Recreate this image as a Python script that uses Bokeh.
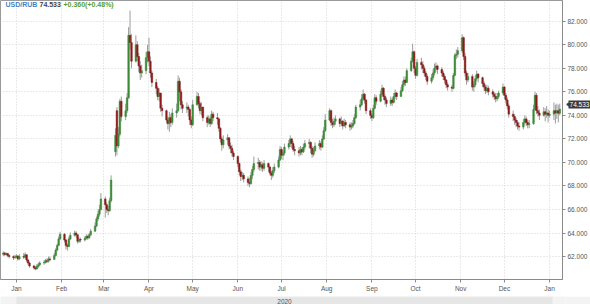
import pandas as pd
from bokeh.plotting import figure
from bokeh.models import (ColumnDataSource, Range1d, DatetimeTickFormatter, MonthsTicker,
                          FixedTicker, NumeralTickFormatter, Label)
from bokeh.layouts import column, row
from bokeh.core.properties import value
from bokeh.embed import file_html
from bokeh.resources import INLINE

# ---------------- data ----------------
symbol = "USD/RUB"
last_price = "74.533"
change_text = "+0.360(+0.48%)"
start_day = "2019-12-23"
end_day = "2021-01-08"
first_open = 62.20
open_gaps = {"2020-03-09": 70.90, "2020-03-10": 74.40}
years = ["2020"]
y_ticks = [62, 64, 66, 68, 70, 72, 74, 76, 78, 80, 82]

closes = [
    62.30, 62.18, 62.25, 62.10, 62.00,   # Dec 23
    61.90, 61.95, 62.05, 61.80, 62.00,   # Dec 30
    61.95, 62.15, 61.70, 61.45, 61.20,   # Jan 6
    61.05, 60.95, 61.15, 61.30, 61.45,   # Jan 13
    61.50, 61.65, 61.60, 61.80, 61.75,   # Jan 20
    62.10, 62.55, 62.95, 63.50, 63.90,   # Jan 27
    63.40, 62.95, 62.85, 63.50, 63.80,   # Feb 3
    64.00, 63.85, 63.30, 63.45, 63.40,   # Feb 10
    63.55, 63.70, 63.60, 63.85, 64.15,   # Feb 17
    64.60, 65.20, 65.60, 66.00, 66.90,   # Feb 24
    66.40, 66.00, 65.90, 66.75, 68.50,   # Mar 2
    72.30, 71.40, 72.40, 75.20, 73.90,   # Mar 9
    74.40, 75.50, 80.80, 80.20, 78.60,   # Mar 16
    80.00, 79.00, 78.20, 77.60, 77.80,   # Mar 23
    78.90, 79.40, 78.60, 77.60, 76.80,   # Mar 30
    76.30, 75.60, 75.90, 74.60, 74.40,   # Apr 6
    73.60, 73.30, 73.80, 73.40, 74.20,   # Apr 13
    74.40, 76.90, 76.00, 74.90, 74.60,   # Apr 20
    74.70, 74.50, 73.60, 73.20, 74.90,   # Apr 27
    75.60, 75.00, 74.40, 74.70, 73.80,   # May 4
    73.40, 73.70, 73.30, 74.10, 73.80,   # May 11
    73.70, 72.90, 72.00, 71.50, 71.90,   # May 18
    72.10, 71.40, 71.20, 70.80, 70.50,   # May 25
    69.90, 69.20, 68.80, 68.90, 68.60,   # Jun 1
    68.30, 68.20, 68.90, 69.40, 69.90,   # Jun 8
    70.00, 69.60, 69.80, 69.50, 69.90,   # Jun 15
    69.60, 69.10, 68.90, 69.30, 69.60,   # Jun 22
    70.20, 71.10, 70.60, 70.80, 71.30,   # Jun 29
    71.60, 72.00, 71.60, 71.10, 71.00,   # Jul 6
    70.80, 71.10, 70.90, 71.30, 71.60,   # Jul 13
    71.70, 71.20, 70.70, 71.00, 71.40,   # Jul 20
    71.60, 71.30, 72.00, 72.70, 73.60,   # Jul 27
    74.40, 73.40, 73.20, 73.50, 73.70,   # Aug 3
    73.30, 73.50, 73.10, 73.40, 73.20,   # Aug 10
    73.00, 73.10, 73.30, 73.80, 74.70,   # Aug 17
    74.90, 75.40, 75.80, 75.30, 74.40,   # Aug 24
    74.00, 73.80, 74.60, 75.50, 75.20,   # Aug 31
    75.80, 76.30, 75.60, 75.30, 75.00,   # Sep 7
    75.30, 75.10, 75.60, 75.90, 75.60,   # Sep 14
    76.10, 76.60, 77.00, 76.80, 77.80,   # Sep 21
    78.60, 79.40, 78.00, 77.40, 78.50,   # Sep 28
    78.30, 78.00, 77.60, 77.30, 76.90,   # Oct 5
    77.20, 77.60, 78.00, 78.20, 77.90,   # Oct 12
    77.60, 77.30, 77.00, 76.60, 76.40,   # Oct 19
    76.30, 77.40, 79.10, 79.20, 79.50,   # Oct 26
    80.60, 79.00, 77.60, 77.00, 77.30,   # Nov 2
    76.40, 76.60, 77.10, 77.50, 77.20,   # Nov 9
    76.70, 76.40, 76.10, 76.30, 76.00,   # Nov 16
    75.80, 75.60, 75.40, 75.60, 75.90,   # Nov 23
    76.40, 75.70, 75.30, 74.80, 74.10,   # Nov 30
    73.90, 73.60, 73.40, 73.10, 73.00,   # Dec 7
    73.40, 73.70, 73.40, 73.20, 73.30,   # Dec 14
    74.50, 75.70, 74.40, 74.20, 74.00,   # Dec 21
    74.30, 74.10, 74.20, 74.00, 74.10,   # Dec 28
    74.40, 74.20, 74.40, 74.173, 74.533, # Jan 4
]

highs = [
    62.45, 62.40, 62.35, 62.30, 62.20,
    62.10, 62.15, 62.20, 62.10, 62.20,
    62.30, 62.35, 62.20, 61.80, 61.55,
    61.30, 61.20, 61.35, 61.50, 61.60,
    61.70, 61.80, 61.85, 62.00, 62.00,
    62.30, 62.70, 63.10, 63.70, 64.10,
    64.00, 63.50, 63.10, 63.70, 64.05,
    64.20, 64.15, 63.90, 63.65, 63.60,
    63.75, 63.90, 63.85, 64.00, 64.35,
    64.90, 65.40, 65.90, 66.40, 67.40,
    67.10, 66.60, 66.30, 67.00, 68.90,
    72.90, 74.70, 73.00, 75.40, 75.60,
    75.00, 75.90, 81.50, 82.90, 80.90,
    80.80, 80.30, 79.30, 78.60, 78.30,
    79.40, 80.00, 80.60, 79.00, 77.80,
    77.10, 76.50, 76.30, 75.90, 74.90,
    74.50, 73.90, 74.30, 74.10, 74.60,
    75.00, 77.40, 77.20, 76.20, 75.20,
    75.10, 74.90, 74.60, 73.90, 75.30,
    76.00, 75.90, 75.20, 75.10, 74.70,
    74.00, 74.00, 73.90, 74.40, 74.30,
    74.20, 73.80, 73.00, 72.20, 72.30,
    72.40, 72.10, 71.70, 71.50, 71.00,
    70.60, 70.00, 69.40, 69.20, 69.10,
    68.80, 68.70, 69.20, 69.70, 70.50,
    70.40, 70.20, 70.10, 70.00, 70.20,
    70.00, 69.70, 69.30, 69.60, 69.90,
    70.50, 71.40, 71.30, 71.00, 71.60,
    71.90, 72.30, 72.10, 71.80, 71.40,
    71.30, 71.40, 71.30, 71.60, 71.90,
    72.00, 71.80, 71.40, 71.30, 71.70,
    71.90, 71.80, 72.30, 73.00, 74.10,
    74.60, 74.50, 73.70, 73.80, 74.00,
    73.80, 73.90, 73.60, 73.70, 73.60,
    73.40, 73.40, 73.60, 74.10, 74.90,
    75.30, 75.80, 76.20, 75.90, 75.40,
    74.60, 74.20, 74.90, 75.80, 75.70,
    76.10, 76.60, 76.40, 75.80, 75.50,
    75.60, 75.50, 75.90, 76.20, 76.00,
    76.40, 76.90, 77.30, 77.30, 78.00,
    78.90, 80.10, 79.50, 78.20, 78.80,
    78.90, 78.60, 78.20, 77.80, 77.50,
    77.50, 77.90, 78.40, 78.50, 78.30,
    78.10, 77.80, 77.50, 77.10, 76.80,
    76.60, 77.60, 79.30, 79.60, 79.80,
    80.90, 80.70, 79.30, 77.80, 77.60,
    77.50, 76.90, 77.40, 77.80, 77.60,
    77.30, 76.90, 76.60, 76.60, 76.50,
    76.20, 76.00, 75.90, 75.90, 76.10,
    76.70, 76.50, 75.90, 75.50, 75.00,
    74.40, 74.10, 73.80, 73.60, 73.40,
    73.70, 74.00, 73.90, 73.60, 73.60,
    74.90, 76.00, 75.90, 74.80, 74.50,
    74.70, 74.60, 74.80, 74.50, 74.40,
    75.10, 74.90, 75.00, 74.90, 75.00,
]

lows = [
    62.05, 62.05, 62.10, 61.95, 61.85,
    61.70, 61.80, 61.90, 61.65, 61.70,
    61.80, 61.85, 61.55, 61.30, 61.05,
    60.90, 60.85, 60.90, 61.05, 61.20,
    61.30, 61.40, 61.45, 61.50, 61.60,
    61.75, 62.00, 62.45, 62.90, 63.40,
    63.20, 62.60, 62.50, 62.80, 63.40,
    63.70, 63.60, 63.10, 63.15, 63.20,
    63.30, 63.45, 63.40, 63.50, 63.75,
    64.10, 64.50, 65.00, 65.40, 65.90,
    65.30, 65.70, 65.50, 65.80, 66.60,
    70.50, 70.60, 71.20, 72.20, 73.50,
    73.60, 74.20, 75.40, 79.60, 78.00,
    78.50, 78.60, 77.70, 77.00, 77.20,
    77.50, 78.50, 78.20, 77.20, 76.40,
    75.80, 75.30, 75.20, 74.30, 73.90,
    73.30, 72.80, 72.60, 73.00, 73.20,
    73.80, 74.30, 75.20, 74.50, 74.20,
    74.20, 73.90, 73.20, 72.90, 73.10,
    74.80, 74.60, 74.10, 74.00, 73.50,
    73.00, 73.20, 73.00, 73.20, 73.50,
    73.20, 72.60, 71.70, 71.00, 71.20,
    71.50, 71.10, 70.80, 70.50, 70.20,
    69.60, 68.90, 68.40, 68.50, 68.30,
    68.00, 67.90, 68.10, 68.60, 69.20,
    69.40, 69.30, 69.30, 69.20, 69.30,
    69.20, 68.90, 68.50, 68.70, 69.10,
    69.50, 70.10, 70.30, 70.20, 70.60,
    71.10, 71.30, 71.20, 70.90, 70.60,
    70.50, 70.60, 70.60, 70.80, 71.10,
    71.20, 70.80, 70.40, 70.50, 70.90,
    71.10, 71.00, 71.20, 71.90, 72.60,
    73.50, 73.10, 72.90, 73.00, 73.20,
    73.00, 73.10, 72.80, 73.00, 72.90,
    72.70, 72.80, 72.90, 73.20, 73.70,
    74.40, 74.80, 75.20, 75.00, 74.10,
    73.70, 73.50, 73.70, 74.50, 74.90,
    75.10, 75.60, 75.30, 74.90, 74.70,
    74.80, 74.80, 75.00, 75.40, 75.30,
    75.60, 76.00, 76.40, 76.50, 76.80,
    77.70, 78.50, 77.60, 77.10, 77.30,
    77.90, 77.60, 77.30, 77.00, 76.60,
    76.70, 77.00, 77.40, 77.70, 77.50,
    77.30, 77.00, 76.70, 76.30, 76.10,
    76.00, 76.20, 77.30, 78.80, 78.90,
    79.30, 78.70, 77.30, 76.60, 76.80,
    76.10, 76.00, 76.40, 76.90, 76.80,
    76.40, 76.10, 75.80, 75.90, 75.70,
    75.50, 75.30, 75.10, 75.20, 75.40,
    75.70, 75.40, 75.00, 74.50, 73.80,
    73.50, 73.20, 73.00, 72.80, 72.70,
    72.80, 73.20, 73.10, 72.90, 72.90,
    73.20, 74.40, 74.10, 73.90, 73.60,
    73.90, 73.50, 73.80, 73.40, 73.80,
    73.60, 73.30, 73.70, 73.40, 74.00,
]

# ---------------- build table ----------------
dates = pd.bdate_range(start_day, end_day)
assert len(dates) == len(closes) == len(highs) == len(lows)
opens = [first_open] + closes[:-1]
for d, o in open_gaps.items():
    opens[dates.get_loc(pd.Timestamp(d))] = o
df = pd.DataFrame({"date": dates, "open": opens, "close": closes,
                   "high": highs, "low": lows})
df["high"] = df[["high", "open", "close"]].max(axis=1)
df["low"] = df[["low", "open", "close"]].min(axis=1)
df["top"] = df[["open", "close"]].max(axis=1)
df["bottom"] = df[["open", "close"]].min(axis=1)
df["color"] = ["#3b8a36" if c >= o else "#8c1a1a" for o, c in zip(df["open"], df["close"])]
src = ColumnDataSource(df)

# ---------------- layout geometry ----------------
W = 590
R = 25            # right border (axis)
FRAME_W = W - R
FRAME_H = 282
Y0, Y1 = 60.05, 83.76
px_per_day = 536 / 366.0
jan1 = pd.Timestamp("2020-01-01")
x_start = jan1 - pd.Timedelta(days=16 / px_per_day)
x_end = x_start + pd.Timedelta(days=FRAME_W / px_per_day)
xr = Range1d(start=x_start, end=x_end)
yrange = Range1d(Y0, Y1)

FONT = "Liberation Sans"

p = figure(width=W, height=294, x_axis_type="datetime", x_range=xr,
           y_range=yrange, y_axis_location="right",
           toolbar_location=None, output_backend="svg",
           min_border_left=0, min_border_top=0, min_border_bottom=294 - FRAME_H,
           min_border_right=R)
p.background_fill_color = "white"
p.border_fill_color = "white"
p.outline_line_color = "#9a9a9a"

# grid
p.xgrid.grid_line_color = "#d4d4d4"
p.xgrid.grid_line_dash = "1 2"
p.ygrid.grid_line_color = "#d4d4d4"
p.ygrid.grid_line_dash = "1 2"

# axes
p.xaxis.ticker = MonthsTicker(months=list(range(12)))
p.xaxis.formatter = DatetimeTickFormatter(months="%b", days="%b", years="%b")
p.yaxis.ticker = FixedTicker(ticks=y_ticks)
p.yaxis.formatter = NumeralTickFormatter(format="0.000")
for ax in (p.xaxis[0], p.yaxis[0]):
    ax.axis_line_color = "#8a8a8a"
    ax.major_tick_line_color = "#8a8a8a"
    ax.major_tick_out = 3
    ax.major_tick_in = 0
    ax.minor_tick_line_color = None
    ax.major_label_text_font = FONT
    ax.major_label_text_font_size = "6.5px"
    ax.major_label_text_color = "#555555"
    ax.major_label_standoff = 2

# candles
day_ms = 24 * 3600 * 1000
p.segment(x0="date", y0="low", x1="date", y1="high", source=src,
          line_color="#9c9c9c", line_width=1)
p.vbar(x="date", top="top", bottom="bottom", width=1.1 * day_ms, source=src,
       fill_color="color", line_color="color", line_width=0.5)

# title pieces
for txt, xpos, col in [(symbol, 5, "#4a7fc1"), (last_price, 39, "#444444"),
                       (change_text, 63, "#5aa02c")]:
    p.add_layout(Label(x=xpos, y=FRAME_H - 7, x_units="screen", y_units="screen", text=txt,
                       text_font=FONT, text_font_size="7px", text_font_style="bold",
                       text_color=col, text_baseline="middle"))

# ---------------- last-price tag, overlaid on the right axis ----------------
TAG_W = 24
tag_src = ColumnDataSource(dict(y=[closes[-1]], label=[last_price]))
ptag = figure(width=TAG_W, height=FRAME_H, x_range=Range1d(0, TAG_W), y_range=yrange,
              toolbar_location=None, output_backend="svg", min_border=0,
              x_axis_location=None, y_axis_location=None,
              margin=(0, 0, 0, -TAG_W))
ptag.background_fill_alpha = 0
ptag.border_fill_alpha = 0
ptag.outline_line_color = None
ptag.grid.visible = False
ptag.rect(x=13, y="y", width=22, height=8, height_units="screen", source=tag_src,
          fill_color="#3a3a3a", line_color=None)
ptag.scatter(x=1.8, y="y", marker="triangle", angle=1.5708, size=5, source=tag_src,
             fill_color="#3a3a3a", line_color=None)
ptag.text(x=13, y="y", text="label", source=tag_src, text_font=value(FONT),
          text_font_size="6.5px", text_color="white", text_align="center",
          text_baseline="middle")

# ---------------- year band below ----------------
p2 = figure(width=W, height=10, x_axis_type="datetime", x_range=xr,
            y_range=Range1d(0, 1), x_axis_location=None, y_axis_location="right",
            toolbar_location=None, output_backend="svg",
            min_border_left=0, min_border_top=0, min_border_bottom=0,
            min_border_right=R)
p2.background_fill_color = "#f3f3f3"
p2.border_fill_color = "#f3f3f3"
p2.outline_line_color = None
p2.grid.visible = False
ax2 = p2.yaxis[0]
ax2.ticker = FixedTicker(ticks=[0.5])
ax2.major_label_overrides = {0.5: "82.000"}
ax2.major_label_text_alpha = 0
ax2.axis_line_alpha = 0
ax2.major_tick_line_alpha = 0
ax2.major_tick_out = 3
ax2.major_tick_in = 0
ax2.minor_tick_line_color = None
ax2.major_label_text_font = FONT
ax2.major_label_text_font_size = "6.5px"
ax2.major_label_standoff = 2

yl = [pd.Timestamp(f"{y}-01-01") for y in years]
yr = [pd.Timestamp(f"{int(y) + 1}-01-01") for y in years]
ym = [a + (b - a) / 2 for a, b in zip(yl, yr)]
bsrc = ColumnDataSource(dict(left=yl, right=yr, mid=ym, label=years))
p2.quad(left="left", right="right", bottom=0, top=1, source=bsrc,
        fill_color="#e6e6e6", line_color=None)
p2.text(x="mid", y=0.5, text="label", source=bsrc, text_font=value(FONT),
        text_font_size="6.5px", text_color="#555555", text_align="center",
        text_baseline="middle")

layout = column(row(p, ptag, spacing=0), p2, spacing=0)
open("out.html", "w").write(file_html(layout, INLINE))
